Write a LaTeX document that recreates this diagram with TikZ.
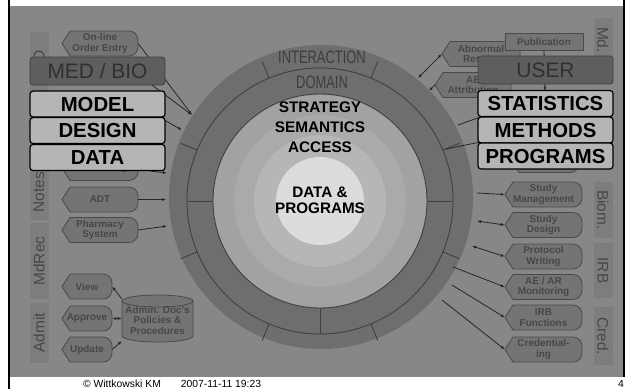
\documentclass[tikz,border=0pt]{standalone}
\usepackage{fontspec}
\setmainfont{Liberation Sans}
\newfontfamily\narrowfont[FakeStretch=0.72]{Liberation Sans}
\usetikzlibrary{arrows.meta}

\definecolor{slidebg}{HTML}{878787}
\definecolor{halo}{HTML}{6E6E6E}
\definecolor{core1}{HTML}{A2A2A2}
\definecolor{core2}{HTML}{AAAAAA}
\definecolor{core3}{HTML}{B6B6B6}
\definecolor{core4}{HTML}{DCDCDC}
\definecolor{hexfill}{HTML}{747474}
\definecolor{hexline}{HTML}{4A4A4A}
\definecolor{hextext}{HTML}{474747}
\definecolor{layerfill}{HTML}{B5B5B5}
\definecolor{topfill}{HTML}{5E5E5E}
\definecolor{toptext}{HTML}{303030}
\definecolor{tagfill}{HTML}{7D7D7D}

% item with pointed left end and rounded right end
\newcommand\hexitem[5]{%
  \filldraw[fill=hexfill,draw=hexline,line width=.8bp]
    (#2-#4,#3) -- (#2-#4+8,#3-12.5) [rounded corners=9bp] -- (#2+#4,#3-12.5)
    -- (#2+#4,#3+12.5) [sharp corners] -- (#2-#4+8,#3+12.5) -- cycle;
  \node[hexlabel,minimum width={2*#4 bp}] (#1) at (#2,#3) {#5};}

\begin{document}
\begin{tikzpicture}[x=1bp,y=-1bp,>={Latex[length=4bp,width=3bp]},
    hexlabel/.style={text=hextext,font=\bfseries\fontsize{10}{10.5}\selectfont,
      align=center,minimum height=25bp,inner sep=0pt},
    link/.style={draw=black!85,line width=.8bp},
    ringline/.style={draw=black!75,line width=.9bp},
    layerbox/.style={fill=layerfill,draw=black,line width=1.2bp,rounded corners=3bp,
      minimum width=135bp,minimum height=26bp,inner sep=0pt,
      font=\bfseries\fontsize{20.4}{20.4}\selectfont},
    topbox/.style={fill=topfill,draw=black!75,line width=.8bp,rounded corners=3bp,
      minimum width=135bp,minimum height=28bp,inner sep=0pt,text=toptext,
      font=\fontsize{21}{21}\selectfont},
    tagbox/.style={fill=tagfill,text=black!72,font=\fontsize{15.5}{15.5}\selectfont,
      minimum height=19bp,inner sep=0pt},
    ringtext/.style={text=black!76,font=\narrowfont\fontsize{18}{18}\selectfont,inner sep=0pt},
    coretext/.style={align=center,inner sep=0pt,font=\bfseries\fontsize{15.4}{20}\selectfont},
    foot/.style={font=\fontsize{10.4}{10.4}\selectfont,inner sep=0pt}]

  \useasboundingbox (0,0) rectangle (631,389);
  \fill[white] (0,0) rectangle (631,389);
  \fill[slidebg] (10,6) rectangle (623,377);
  \draw[line width=2.5bp] (9,0) -- (9,389);
  \draw[line width=1.5bp] (624,0) -- (624,377);

  % rings
  \begin{scope}[shift={(320,201)}]
    \fill[halo] (1,-4) circle[radius=152bp];
    \draw[ringline] (0,0) circle[radius=133bp];
    \foreach \a in {22.5,67.5,...,337.5}
      \draw[ringline] (\a:133bp) -- (\a:151bp);
    \foreach \a in {0,180,270}
      \draw[ringline] (\a:107bp) -- (\a:133bp);
    \fill[core1] (0,0) circle[radius=107bp];
    \fill[core2] (0,0) circle[radius=86bp];
    \fill[core3] (0,0) circle[radius=66bp];
    \fill[core4] (0,0) circle[radius=44bp];
    \draw[ringline] (0,0) circle[radius=107bp];
  \end{scope}

  \node[ringtext] (interaction) at (322,57) {INTERACTION};
  \node[ringtext] (domain) at (322,82) {DOMAIN};
  \node[coretext] (layers) at (320,127.5) {STRATEGY\\SEMANTICS\\ACCESS};
  \node[coretext,font=\bfseries\fontsize{15.3}{16}\selectfont] (core) at (320,200) {DATA \&\\PROGRAMS};

  % side tags
  \node[tagbox,rotate=90,minimum width=60bp] (tmd) at (39,62) {MD};
  \node[tagbox,rotate=90,minimum width=56bp] (tnotes) at (39,192) {Notes};
  \node[tagbox,rotate=90,minimum width=76bp] (tmdrec) at (39,261) {MdRec};
  \node[tagbox,rotate=90,minimum width=60bp] (tadmit) at (39,333) {Admit};
  \node[tagbox,rotate=-90,minimum width=44bp] (tmd2) at (603,40) {Md.};
  \node[tagbox,rotate=-90,minimum width=56bp] (tbiom) at (603,210) {Biom.};
  \node[tagbox,rotate=-90,minimum width=55bp] (tirb) at (603,270.5) {IRB};
  \node[tagbox,rotate=-90,minimum width=58bp] (tcred) at (603,336) {Cred.};

  % left items
  \hexitem{order}{100}{43.5}{38}{On-line\\Order Entry}
  \hexitem{sched}{100}{168}{38}{Scheduling}
  \hexitem{adt}{100}{199.5}{38}{ADT}
  \hexitem{pharm}{100}{230}{38}{Pharmacy\\System}
  \hexitem{view}{87}{286.5}{25}{View}
  \hexitem{approve}{87}{318.5}{25}{Approve}
  \hexitem{update}{87}{349.5}{25}{Update}

  % document store
  \filldraw[fill=hexfill,draw=hexline,line width=.8bp] (122,301) -- (122,336)
    arc[start angle=180,end angle=360,x radius=35.5bp,y radius=6bp] -- (193,301)
    arc[start angle=0,end angle=180,x radius=35.5bp,y radius=6bp] -- cycle;
  \draw[draw=hexline,line width=.8bp] (122,301)
    arc[start angle=180,end angle=360,x radius=35.5bp,y radius=6bp];
  \node[hexlabel,minimum width=71bp,minimum height=47bp] (docs) at (157.5,320) {Admin. Doc's\\Policies \&\\Procedures};

  % right items
  \hexitem{abnormal}{481}{54}{39}{Abnormal\\Results}
  \hexitem{aeattr}{473}{85}{38}{AE\\Attribution}
  \node[fill=hexfill,draw=hexline,line width=.8bp,minimum width=78bp,minimum height=17bp,
    inner sep=0pt,text=hextext,font=\bfseries\fontsize{10}{10}\selectfont] (pub) at (544,41.5) {Publication};
  \hexitem{analyses}{545}{160}{34}{Analyses}
  \hexitem{smgmt}{543.5}{194.5}{38.5}{Study\\Management}
  \hexitem{sdesign}{543.5}{225}{38.5}{Study\\Design}
  \hexitem{protocol}{543.5}{256.5}{38.5}{Protocol\\Writing}
  \hexitem{aemon}{543.5}{287}{38.5}{AE / AR\\Monitoring}
  \hexitem{irbf}{543.5}{317.5}{38.5}{IRB\\Functions}
  \hexitem{cred}{543.5}{349.5}{38.5}{Credential-\\ing}

  % ring end points
  \coordinate (r1) at (192,115);
  \coordinate (r2) at (182,130);
  \coordinate (r3) at (167,173);
  \coordinate (r4) at (166,199.5);
  \coordinate (r5) at (167,226);
  \coordinate (r6) at (418,78);
  \coordinate (r7) at (429,91);
  \coordinate (r8) at (458,125);
  \coordinate (r9) at (446,149);
  \coordinate (r10) at (477,193);
  \coordinate (r11) at (477,221);
  \coordinate (r12) at (472,246);
  \coordinate (r13) at (453,267);
  \coordinate (r14) at (452,285);
  \coordinate (r15) at (442,300);
  \coordinate (h1) at (140,76);
  \coordinate (h2) at (150,112);
  \coordinate (h3) at (150,171);
  \coordinate (h4) at (500,110);
  \coordinate (h5) at (500,138);

  \draw[link,->] (order.east) -- (r1);
  \draw[link,->] (h1) -- (r1);
  \draw[link,->] (h2) -- (r2);
  \draw[link,->] (h3) -- (r3);
  \draw[link,->] (adt.east) -- (r4);
  \draw[link,->] (pharm.east) -- (r5);
  \draw[link,->] ([yshift=21bp]docs.west) -- (view.east);
  \draw[link,<->] (approve.east) -- (docs.west |- approve.east);
  \draw[link,->] (update.east) -- ([yshift=-21bp]docs.west);
  \draw[link,<->] (abnormal.west) -- (r6);
  \draw[link,->] (aeattr.west) -- (r7);
  \draw[link] (h4) -- (r8);
  \draw[link] (h5) -- (r9);
  \draw[link,->] (pub.south) -- (545,91);
  \draw[link,->] (r10) -- (smgmt.west);
  \draw[link,<->] (r11) -- (sdesign.west);
  \draw[link,<->] (r12) -- (protocol.west);
  \draw[link,->] (r13) -- (aemon.west);
  \draw[link,->] (r14) -- (irbf.west);
  \draw[link,->] (r15) -- (cred.west);

  % layer boxes
  \node[topbox] (medbio) at (97.5,71) {MED / BIO};
  \node[layerbox] (model) at (97.5,104) {MODEL};
  \node[layerbox] (design) at (97.5,130.5) {DESIGN};
  \node[layerbox] (data) at (97.5,157.5) {DATA};
  \node[topbox] (user) at (545.5,70) {USER};
  \node[layerbox] (stats) at (545.5,103.5) {STATISTICS};
  \node[layerbox] (methods) at (545.5,130) {METHODS};
  \node[layerbox] (programs) at (545.5,156) {PROGRAMS};

  % footer
  \node[foot] (copy) at (122,384) {© Wittkowski KM};
  \node[foot] (date) at (221,384) {2007-11-11 19:23};
  \node[foot] (page) at (621,384) {4};
\end{tikzpicture}
\end{document}
